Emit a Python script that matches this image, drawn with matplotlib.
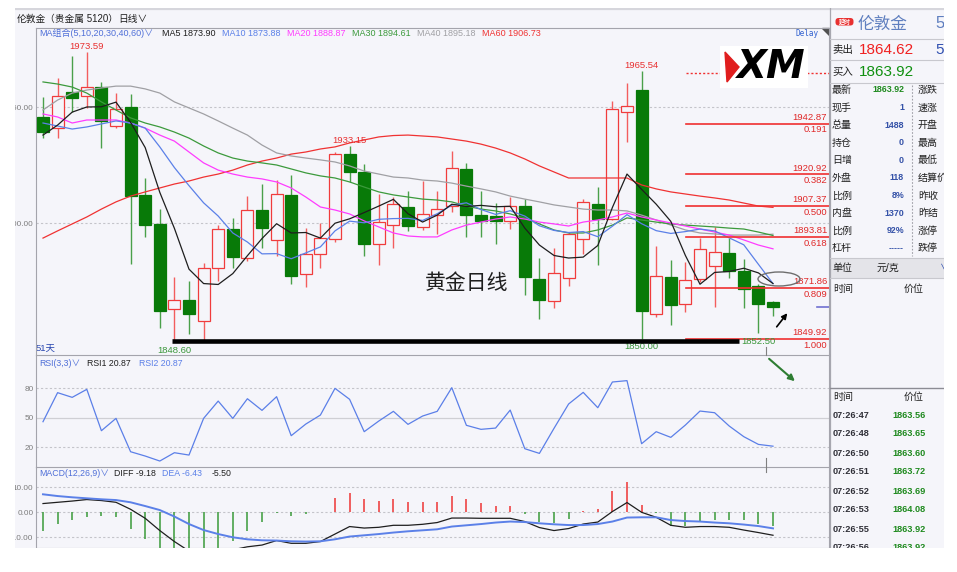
import matplotlib
matplotlib.use("Agg")
import matplotlib.pyplot as plt
from matplotlib.patches import Rectangle, Ellipse, Polygon, FancyBboxPatch

plt.rcParams['font.family'] = ['Liberation Sans', 'Noto Sans CJK SC', 'DejaVu Sans']

W, H = 957, 572

# ---- daily candles (51 days) ----
opens = [1945.7, 1940.9, 1956.5, 1954.7, 1958.6, 1941.8, 1950.0, 1912.1, 1899.6, 1862.9,
         1866.8, 1857.8, 1880.6, 1897.4, 1884.9, 1905.6, 1892.7, 1912.1, 1878.0, 1886.6,
         1893.1, 1929.7, 1922.0, 1890.9, 1899.1, 1906.9, 1898.3, 1903.4, 1907.3, 1923.3,
         1903.4, 1903.0, 1900.9, 1907.3, 1875.9, 1866.4, 1876.3, 1893.1, 1908.2, 1901.7,
         1947.8, 1957.3, 1860.8, 1876.7, 1865.1, 1875.9, 1881.5, 1887.1, 1879.3, 1872.8,
         1866.0]
highs = [1954.3, 1962.5, 1972.0, 1973.59, 1960.8, 1956.0, 1955.6, 1919.4, 1906.0, 1876.7,
         1875.0, 1882.8, 1899.1, 1902.2, 1911.6, 1916.8, 1918.5, 1920.7, 1897.8, 1900.0,
         1930.6, 1933.15, 1925.4, 1912.5, 1911.2, 1913.8, 1918.1, 1913.8, 1931.0, 1925.9,
         1913.8, 1908.6, 1911.2, 1910.3, 1884.9, 1889.2, 1896.1, 1910.3, 1915.5, 1952.6,
         1960.3, 1965.54, 1890.1, 1884.1, 1883.2, 1893.5, 1898.3, 1893.5, 1884.5, 1873.7,
         1866.3]
lows = [1936.6, 1936.6, 1947.8, 1949.6, 1932.3, 1940.9, 1882.3, 1894.0, 1854.7, 1848.6,
        1852.2, 1849.6, 1875.0, 1880.6, 1883.6, 1889.2, 1885.8, 1873.7, 1872.4, 1880.6,
        1891.8, 1917.7, 1885.8, 1881.9, 1889.2, 1896.6, 1897.0, 1895.3, 1904.7, 1894.0,
        1894.0, 1890.9, 1897.4, 1869.0, 1858.6, 1863.4, 1872.8, 1886.6, 1881.9, 1901.3,
        1934.9, 1850.0, 1859.5, 1856.0, 1861.6, 1874.6, 1863.8, 1876.3, 1863.4, 1852.5,
        1859.9]
closes = [1939.2, 1954.7, 1953.9, 1958.6, 1944.0, 1949.1, 1911.6, 1899.1, 1862.1, 1866.8,
          1860.8, 1880.6, 1897.4, 1885.3, 1905.6, 1897.8, 1912.5, 1877.2, 1886.6, 1893.5,
          1929.7, 1922.0, 1890.9, 1900.4, 1908.2, 1898.7, 1903.9, 1906.0, 1923.7, 1903.4,
          1900.9, 1900.9, 1907.3, 1876.7, 1866.8, 1878.4, 1895.3, 1909.1, 1901.7, 1949.1,
          1950.4, 1862.1, 1877.2, 1864.7, 1875.4, 1888.8, 1887.5, 1879.3, 1871.6, 1865.1,
          1863.92]

# ---- moving averages ----
ma5 = [1937.9, 1942.2, 1947.8, 1950.0, 1950.1, 1952.1, 1943.4, 1932.5, 1913.2, 1897.7,
       1880.1, 1873.9, 1873.5, 1878.2, 1885.9, 1893.3, 1899.7, 1895.7, 1895.9, 1893.5,
       1899.9, 1901.8, 1904.5, 1907.3, 1910.2, 1904.0, 1900.4, 1903.4, 1908.1, 1907.1,
       1907.6, 1907.0, 1907.2, 1897.8, 1890.5, 1886.0, 1884.9, 1885.3, 1890.3, 1906.7,
       1921.1, 1914.5, 1908.1, 1900.7, 1886.0, 1873.6, 1878.7, 1879.1, 1880.5, 1878.5,
       1873.90]
ma10 = [1943.1, 1941.8, 1940.5, 1941.4, 1942.7, 1944.0, 1943.1, 1940.9, 1932.8, 1923.9,
        1916.1, 1908.7, 1903.0, 1895.7, 1891.8, 1886.7, 1886.8, 1884.6, 1887.1, 1889.7,
        1896.6, 1900.8, 1900.1, 1901.6, 1901.9, 1902.0, 1901.1, 1904.0, 1907.7, 1908.7,
        1905.8, 1903.7, 1905.3, 1903.0, 1898.8, 1896.8, 1895.9, 1896.3, 1894.1, 1898.6,
        1903.6, 1899.7, 1896.7, 1895.5, 1896.3, 1897.4, 1896.6, 1893.6, 1890.6, 1882.2,
        1873.88]
ma20 = [1947.0, 1945.7, 1943.1, 1944.4, 1944.4, 1944.4, 1943.1, 1940.9, 1937.9, 1935.3,
        1930.6, 1925.9, 1922.8, 1921.1, 1919.8, 1919.0, 1917.7, 1915.1, 1911.2, 1906.9,
        1905.6, 1903.9, 1900.9, 1898.3, 1895.7, 1894.4, 1894.0, 1894.0, 1897.0, 1899.1,
        1900.4, 1901.7, 1902.6, 1901.7, 1900.4, 1899.6, 1898.7, 1900.4, 1901.3, 1902.6,
        1904.3, 1902.6, 1901.3, 1900.0, 1898.7, 1897.4, 1896.1, 1894.8, 1892.7, 1890.5,
        1888.87]
ma30 = [1960.8, 1959.9, 1958.6, 1956.0, 1952.2, 1948.7, 1945.3, 1943.1, 1941.4, 1939.2,
        1936.6, 1933.2, 1930.2, 1928.0, 1926.7, 1925.9, 1925.0, 1923.3, 1921.6, 1920.3,
        1919.4, 1917.7, 1915.5, 1913.4, 1912.1, 1911.2, 1910.3, 1909.9, 1909.1, 1907.3,
        1906.0, 1905.2, 1903.9, 1902.2, 1899.6, 1897.0, 1895.7, 1895.7, 1897.0, 1899.1,
        1902.2, 1901.3, 1900.4, 1899.6, 1899.1, 1898.7, 1898.3, 1897.8, 1897.4, 1896.1,
        1894.61]
ma40 = [1948.7, 1953.0, 1956.0, 1957.3, 1958.2, 1959.0, 1959.0, 1957.8, 1956.0, 1952.2,
        1949.6, 1947.0, 1944.0, 1940.9, 1937.9, 1933.6, 1930.2, 1928.9, 1928.0, 1927.2,
        1926.3, 1924.6, 1922.4, 1921.1, 1919.8, 1919.4, 1918.5, 1918.1, 1917.2, 1915.9,
        1914.7, 1913.4, 1911.6, 1910.3, 1909.1, 1907.8, 1906.9, 1906.0, 1905.6, 1905.6,
        1905.2, 1903.4, 1901.3, 1899.1, 1897.0, 1895.7, 1895.3, 1894.8, 1894.8, 1894.8,
        1895.18]
ma60 = [1893.5, 1896.6, 1899.6, 1902.6, 1906.0, 1909.1, 1911.6, 1913.4, 1915.1, 1916.8,
        1918.1, 1919.8, 1921.1, 1922.8, 1925.0, 1926.7, 1928.0, 1929.7, 1930.6, 1931.9,
        1932.8, 1934.5, 1935.8, 1937.1, 1937.7, 1937.9, 1937.5, 1937.1, 1936.2, 1935.3,
        1934.0, 1932.3, 1930.2, 1927.6, 1924.6, 1922.0, 1919.4, 1919.4, 1919.4, 1919.4,
        1919.4, 1916.4, 1914.7, 1913.4, 1912.5, 1911.6, 1910.8, 1909.9, 1908.6, 1907.3,
        1906.73]
ma_names = ['MA5', 'MA10', 'MA20', 'MA30', 'MA40', 'MA60']

# ---- RSI(3,3) ----
rsi = [45.9, 75.6, 70.8, 79.0, 36.7, 49.3, 15.2, 10.8, 5.7, 14.2,
       11.8, 49.3, 67.0, 49.3, 69.4, 57.5, 71.5, 31.6, 43.5, 52.7,
       80.0, 68.8, 35.7, 46.6, 56.5, 43.2, 51.7, 56.5, 80.7, 42.2,
       38.1, 39.4, 57.8, 18.3, 13.5, 39.1, 64.0, 75.9, 60.2, 86.5,
       87.9, 23.4, 35.7, 29.9, 42.5, 56.8, 55.1, 41.5, 30.6, 22.7,
       20.87]

# ---- MACD(12,26,9) ----
macd_diff = [3.5, 4.0, 4.5, 5.1, 4.7, 4.0, 1.2, -2.4, -7.3, -11.7,
             -15.5, -17.0, -17.0, -15.0, -13.8, -13.1, -11.3, -12.4, -12.4, -11.7,
             -8.7, -5.7, -6.3, -6.0, -5.2, -5.2, -4.8, -4.1, -2.3, -2.3,
             -2.4, -2.4, -2.4, -3.7, -6.1, -7.3, -6.5, -4.7, -3.9, 0.3,
             3.9, 0.0, -2.0, -5.2, -6.0, -5.7, -5.7, -6.0, -7.1, -8.1,
             -9.18]
macd_dea = [7.2, 6.5, 6.0, 5.6, 5.2, 4.9, 4.0, 2.5, 0.9, -1.7,
            -4.7, -7.1, -8.7, -10.0, -10.8, -11.2, -11.3, -11.6, -11.7, -11.6,
            -10.8, -9.7, -9.2, -8.7, -8.1, -7.6, -7.2, -6.8, -5.7, -5.2,
            -4.7, -4.1, -3.7, -3.9, -4.4, -4.8, -5.1, -5.1, -4.7, -3.7,
            -2.1, -2.0, -2.0, -3.1, -3.5, -3.7, -4.1, -4.4, -4.9, -5.5,
            -6.43]
macd_hist = [-7.5, -4.8, -3.1, -1.7, -1.5, -2.0, -6.5, -10.7, -16.0, -20.0,
             -20.0, -20.0, -17.0, -11.3, -7.5, -3.9, -0.1, -1.3, -0.8, 0.0,
             5.6, 7.9, 5.3, 4.7, 5.3, 4.3, 4.3, 4.3, 6.5, 5.3,
             3.9, 2.7, 2.7, -0.7, -4.0, -4.4, -2.7, 0.5, 1.3, 8.4,
             12.1, 2.9, -0.4, -5.3, -5.3, -4.0, -3.1, -3.1, -3.1, -4.8,
             -5.50]

# ---- Fibonacci retracement ----
fib_top = 1964.82
fib_prices = [1942.87, 1920.92, 1907.37, 1893.81, 1871.86, 1849.92]
fib_ratios = ['0.191', '0.382', '0.500', '0.618', '0.809', '1.000']
support_end = 47.7

# ---- quote panel ----
quote_name = '伦敦金'
ask_price, bid_price = '1864.62', '1863.92'
quote_labels = ['最新', '现手', '总量', '持仓', '日增', '外盘', '比例', '内盘', '比例', '杠杆']
quote_values = ['1863.92', '1', '1488', '0', '0', '118', '8%', '1370', '92%', '-----']
quote_right = ['涨跌', '速涨', '开盘', '最高', '最低', '结算价', '昨收', '昨结', '涨停', '跌停']
tick_times = ['07:26:47', '07:26:48', '07:26:50', '07:26:51', '07:26:52', '07:26:53', '07:26:55', '07:26:56']
tick_prices = ['1863.56', '1863.65', '1863.60', '1863.72', '1863.69', '1864.08', '1863.92', '1863.92']

# ---- colours ----
BG = '#f5f5fa'
RED, RED_WICK = '#f03c3c', '#f35d5d'
GREEN, GREEN_WICK = '#087a08', '#4aa04a'
MA_COLORS = ['#1e1e1e', '#5b80e8', '#ff3cff', '#3c9a3c', '#a0a0a4', '#f03232']
SPINE = '#a4a4ac'

fig = plt.figure(figsize=(W / 100, H / 100), dpi=100)
fig.patch.set_facecolor('white')

# pixel-space background layer
pa = fig.add_axes([0, 0, 1, 1])
pa.set_xlim(0, W)
pa.set_ylim(H, 0)
pa.axis('off')
pa.add_patch(Rectangle((15, 8), 929, 540, facecolor=BG, edgecolor='none'))


def txt(x, y, s, size=6.5, color='#202020', ha='left', va='center', ax=pa, **kw):
    return ax.text(x, y, s, fontsize=size, color=color, ha=ha, va=va, **kw)


# header strip
pa.plot([15, 944], [9, 9], color='#d6d6dc', lw=1.6)
txt(17, 19, '伦敦金', 7)
txt(45, 19, '（贵金属 5120）', 7)
txt(118, 19, '日线∨', 7)

# x mapping shared by all panels (first candle at px 43, 14.6 px per day)
STEP, X0 = 14.6, 43
AX_L, AX_R = 35.5, 828.5
X_LEFT = (AX_L - X0) / STEP
X_RIGHT = (AX_R - X0) / STEP


def px_axes(y0, y1):
    ax = fig.add_axes([AX_L / W, 1 - y1 / H, (AX_R - AX_L) / W, (y1 - y0) / H])
    ax.patch.set_alpha(0)
    ax.set_xlim(X_LEFT, X_RIGHT)
    for s in ax.spines.values():
        s.set_color(SPINE)
        s.set_linewidth(0.8)
    ax.tick_params(axis='x', bottom=False, labelbottom=False)
    ax.tick_params(axis='y', length=0, pad=1.5, labelsize=5.9, labelcolor='#7c7c7c')
    return ax


x = list(range(len(closes)))
up = [c >= o for o, c in zip(opens, closes)]

# ---------- main price panel ----------
ax = px_axes(28, 355)
ax.set_ylim(1900 - (355 - 223) / 2.32, 1900 + (223 - 28) / 2.32)
ax.set_yticks([1900, 1950])
ax.set_yticklabels(['1900.00', '1950.00'])
for lvl in (1900, 1950):
    ax.axhline(lvl, color='#c4c4ca', lw=0.8, ls=(0, (2, 2)), zorder=1)

ax.vlines(x, lows, highs, colors=[RED_WICK if u else GREEN_WICK for u in up], lw=1.0, zorder=2)
ax.bar(x, [max(abs(c - o), 0.25) for o, c in zip(opens, closes)],
       bottom=[min(o, c) for o, c in zip(opens, closes)], width=0.82,
       color=[BG if u else GREEN for u in up], edgecolor=[RED if u else GREEN for u in up],
       linewidth=0.9, zorder=3)

for series, col in zip([ma60, ma40, ma30, ma20, ma10, ma5], MA_COLORS[::-1]):
    ax.plot(x, series, color=col, lw=0.9, zorder=4)

# high / low labels
for i in [3, 21, 41]:
    ax.annotate(f'{highs[i]:.2f}', (i, highs[i]), xytext=(0, 0.8), textcoords='offset points',
                ha='center', va='bottom', fontsize=6.8, color='#e83030', zorder=6)
for i in [9, 41, 49]:
    ax.annotate(f'{lows[i]:.2f}', (i, lows[i]), xytext=(0, -2.5), textcoords='offset points',
                ha='center', va='top', fontsize=6.8, color='#3a963a', zorder=6)

# fibonacci levels
fx0 = (686 - AX_L) / (AX_R - AX_L)
ax.axhline(fib_top, xmin=fx0, xmax=1, color='#f03030', lw=1.0, ls=(0, (1.5, 1.5)), zorder=5)
for p, r in zip(fib_prices, fib_ratios):
    ax.axhline(p, xmin=fx0, xmax=1, color='#f03030', lw=1.2, zorder=5)
    ax.annotate(f'{p:.2f}', (1, p), xycoords=('axes fraction', 'data'), xytext=(-1, 4.6),
                textcoords='offset points', ha='right', va='center', fontsize=6.8, color='#e02828')
    ax.annotate(r, (1, p), xycoords=('axes fraction', 'data'), xytext=(-1, -4.6),
                textcoords='offset points', ha='right', va='center', fontsize=6.8, color='#e02828')
ax.axhline(closes[-1], xmin=(817 - AX_L) / (AX_R - AX_L), xmax=1, color='#7070d0', lw=1.2, zorder=5)

# support bar under the lows
low_i = lows.index(min(lows))
ax.hlines(1849.0, low_i - 0.15, support_end, color='black', lw=3.3, zorder=6)

# legend row
txt(39, 33, 'MA组合(5,10,20,30,40,60)∨', 6.5, '#4f6fd8')
for name, series, col, lx in zip(ma_names, [ma5, ma10, ma20, ma30, ma40, ma60], MA_COLORS,
                                 [162, 222, 287, 352, 417, 482]):
    txt(lx, 33, f'{name} {series[-1]:.2f}', 6.5, col)
txt(819, 33, 'Delay', 5.5, '#3060d0', ha='right', family='DejaVu Sans Mono')
pa.add_patch(Polygon([(822, 28), (829, 28), (829, 35)], closed=True, color='#505050'))
txt(36, 348, '51天', 6.8, '#2a48b0')

# ---------- RSI panel ----------
rax = px_axes(355, 467)
rax.set_ylim(50 - (467 - 417.7) / 0.978, 50 + (417.7 - 355) / 0.978)
rax.spines['top'].set_visible(False)
rax.set_yticks([20, 50, 80])
rax.set_yticklabels(['20', '50', '80'])
rax.axhline(80, color='#c4c4ca', lw=0.8, ls=(0, (2, 2)))
rax.axhline(20, color='#c4c4ca', lw=0.8, ls=(0, (2, 2)))
rax.axhline(50, color='#cfcfd4', lw=0.9)
rax.plot(x, rsi, color='#5b7fe8', lw=0.9)
txt(39, 363, 'RSI(3,3)∨', 6.3, '#4f6fd8')
txt(87, 363, f'RSI1 {rsi[-1]:.2f}', 6.3, '#202020')
txt(139, 363, f'RSI2 {rsi[-1]:.2f}', 6.3, '#5b7fe8')

# ---------- MACD panel ----------
mx = px_axes(467, 548)
mx.set_ylim(-(548 - 512.3) / 2.5, (512.3 - 467) / 2.5)
mx.spines['top'].set_visible(False)
mx.set_yticks([-10, 0, 10])
mx.set_yticklabels(['-10.00', '0.00', '10.00'])
for lvl in (-10, 0, 10):
    mx.axhline(lvl, color='#c4c4ca', lw=0.8, ls=(0, (2, 2)))
mx.vlines(x, 0, macd_hist, colors=['#ee3434' if h > 0 else '#3a9a3a' for h in macd_hist], lw=1.1)
mx.plot(x, macd_diff, color='#1e1e1e', lw=0.9)
mx.plot(x, macd_dea, color='#5b80e8', lw=1.4)
txt(39, 474, 'MACD(12,26,9)∨', 6.3, '#4f6fd8')
txt(114, 474, f'DIFF {macd_diff[-1]:.2f}', 6.3, '#202020')
txt(162, 474, f'DEA {macd_dea[-1]:.2f}', 6.3, '#5b80e8')
txt(212, 474, f'{macd_hist[-1]:.2f}', 6.3, '#202020')

# ---------- right quote panel ----------
pa.plot([829.5, 829.5], [8, 548], color='#a8a8b0', lw=0.9)
for yy in (39, 60, 83, 258, 278):
    pa.plot([830, 944], [yy, yy], color='#c8c8ce', lw=0.8)
pa.plot([830, 944], [388, 388], color='#8c8c94', lw=1.0)
pa.add_patch(FancyBboxPatch((836, 18.5), 17, 6.5, boxstyle='round,pad=0.5,rounding_size=3.2',
                            facecolor='#e83030', edgecolor='none'))
txt(844.5, 21.8, '延时', 4.3, 'white', ha='center', weight='bold')
txt(858, 24, quote_name, 12, '#5f7fbf')
txt(935, 24, '5', 12, '#5f7fbf')
txt(832, 50, '卖出', 7.5)
txt(859, 50, ask_price, 11, '#f02020')
txt(935, 50, '50', 11, '#3050b0')
txt(832, 72, '买入', 7.5)
txt(859, 72, bid_price, 11, '#109010')
for k, (lab, val, rlab) in enumerate(zip(quote_labels, quote_values, quote_right)):
    yy = 90 + k * 17.6
    txt(832, yy, lab, 7.2)
    txt(904, yy, val, 6.4, '#1f8a1f' if k == 0 else '#3552a8', ha='right', weight='bold')
    txt(918, yy, rlab, 7.2)
pa.plot([912, 912], [85, 256], color='#a0a0a8', lw=0.8, ls=(0, (1.5, 1.5)))
pa.add_patch(Rectangle((830, 258.5), 114, 19, facecolor='#e4e4e9', edgecolor='none'))
txt(832, 268, '单位', 7.2)
txt(877, 268, '元/克', 7.2)
txt(940, 268, '∨', 7, '#3050b0')
txt(833, 289, '时间', 7.2)
txt(904, 289, '价位', 7.2)
txt(833, 397, '时间', 7.2)
txt(904, 397, '价位', 7.2)
for k, (tt, tp) in enumerate(zip(tick_times, tick_prices)):
    yy = 415 + k * 19
    txt(833, yy, tt, 6.6, '#303038', weight='bold')
    txt(892, yy, tp, 6.6, '#1f8a1f', weight='bold')

# ---------- overlay: drawings, logo, margins ----------
ov = fig.add_axes([0, 0, 1, 1])
ov.set_xlim(0, W)
ov.set_ylim(H, 0)
ov.axis('off')
ov.patch.set_alpha(0)
ov.set_zorder(10)

ov.add_patch(Rectangle((720, 46), 88, 42, facecolor='white', edgecolor='none'))
ov.add_patch(Polygon([(725, 52), (739, 67), (727, 82)], closed=True, color='#e01e1e'))
txt(771, 67, 'XM', 28, 'black', ha='center', ax=ov, weight='heavy', style='italic',
    family='DejaVu Sans')
txt(467, 283, '黄金日线', 15, '#1e1e1e', ha='center', ax=ov, family=['Noto Sans CJK SC'])
ov.add_patch(Ellipse((779, 279), 42, 14, fill=False, edgecolor='#6e6e6e', lw=1.0))
ov.annotate('', xy=(789, 311), xytext=(775, 329),
            arrowprops=dict(arrowstyle='-|>', color='black', lw=1.2, mutation_scale=8))
ov.plot([766, 766], [347, 355], color='#808080', lw=0.8)
ov.plot([766, 766], [458, 472], color='#808080', lw=0.8)
ov.annotate('', xy=(797, 383), xytext=(767, 357),
            arrowprops=dict(arrowstyle='-|>', color='#2e7d32', lw=1.5, mutation_scale=9))

for r in [(0, 0, 15, H), (944, 0, 13, H), (0, 548, W, H - 548), (0, 0, W, 8)]:
    ov.add_patch(Rectangle((r[0], r[1]), r[2], r[3], facecolor='white', edgecolor='none'))

fig.savefig('out.png', dpi=100)
plt.close(fig)
